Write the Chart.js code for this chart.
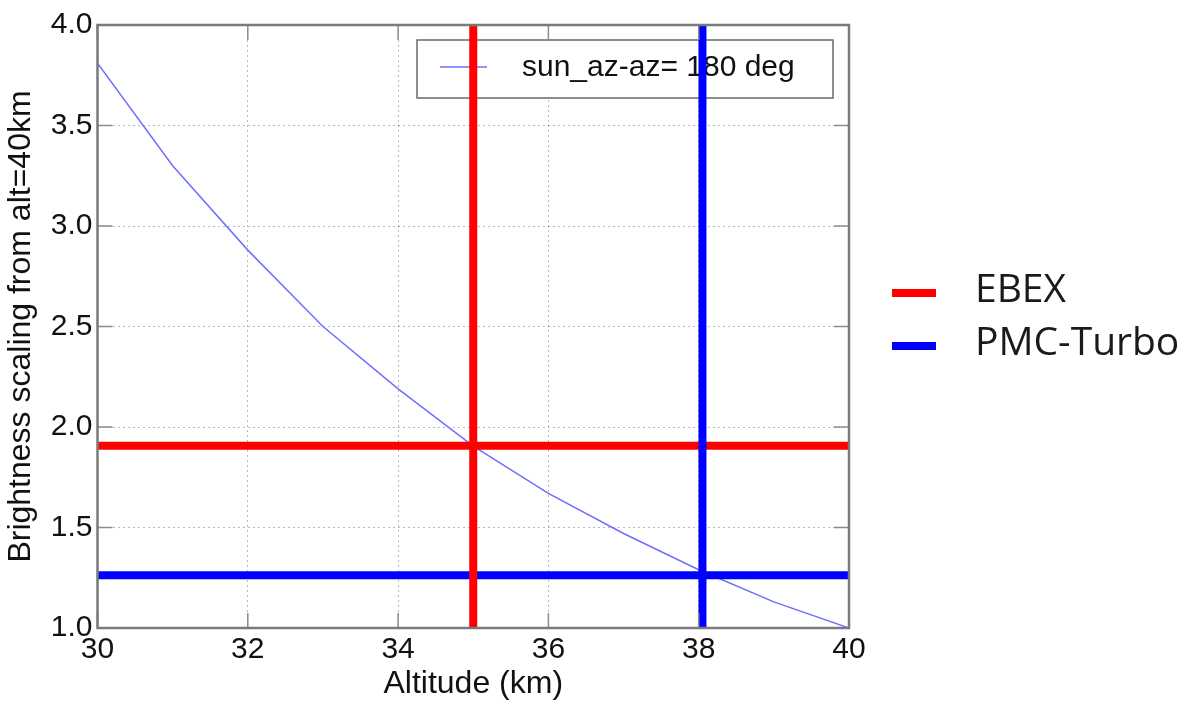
<!DOCTYPE html>
<html>
<head>
<meta charset="utf-8">
<script src="https://cdn.jsdelivr.net/npm/chart.js@4"></script>
<style>
  body { margin: 0; background: #fff; }
  #wrap { position: relative; width: 1196px; height: 705px; }
  #chart { position: absolute; left: 0; top: 0; }
  .key { position: absolute; height: 8px; width: 44px; left: 892px; }
  .keytxt { position: absolute; left: 975px; font-family: "Open Sans", sans-serif; font-size: 39px; line-height: 39px; color: #1a1a1a; white-space: nowrap; }
</style>
</head>
<body>
<div id="wrap">
  <canvas id="chart" width="1196" height="705"></canvas>
  <div class="key" style="top:289px;background:#ff0000"></div>
  <div class="keytxt" style="top:267px">EBEX</div>
  <div class="key" style="top:342px;background:#0000ff"></div>
  <div class="keytxt" style="top:320px">PMC-Turbo</div>
</div>
<script>
// altitude (km) vs brightness scaling
const altitudes = [30, 31, 32, 33, 34, 35, 36, 37, 38, 39, 40];
const brightness = [3.81, 3.30, 2.88, 2.50, 2.19, 1.905, 1.67, 1.47, 1.29, 1.13, 1.00];
const xTicks = [30, 32, 34, 36, 38, 40];
const yTicks = [1.0, 1.5, 2.0, 2.5, 3.0, 3.5, 4.0];
const ebexAlt = 35;
const ebexLevel = 1.907;
const pmcAlt = 38.05;
const pmcLevel = 1.262;
const curveLabel = "sun_az-az= 180 deg";

const curveColor = "#6f6fff";
const fontFam = "Liberation Sans, Arial, sans-serif";
const tickFont = { family: fontFam, size: 30 };
const titleFont = { family: fontFam, size: 32 };

const curvePts = altitudes.map((a, i) => ({ x: a, y: brightness[i] }));

// frame, inward tick marks and the in-plot legend box
const framePlugin = {
    id: "frame",
    beforeDatasetsDraw(chart) {
        const { ctx, chartArea: a } = chart;
        const bx = a.right - 16, by = a.top + 15;
        const w = 416, h = 58;
        ctx.save();
        ctx.fillStyle = "#fff";
        ctx.fillRect(bx - w, by, w, h);
        ctx.strokeStyle = "#6a6a6a";
        ctx.lineWidth = 1.5;
        ctx.strokeRect(bx - w, by, w, h);
        ctx.strokeStyle = curveColor;
        ctx.lineWidth = 1.5;
        ctx.beginPath();
        ctx.moveTo(bx - w + 23, by + 27);
        ctx.lineTo(bx - w + 70, by + 27);
        ctx.stroke();
        ctx.fillStyle = "#111";
        ctx.font = "30px 'Liberation Sans', Arial, sans-serif";
        ctx.textBaseline = "middle";
        ctx.fillText(curveLabel, bx - w + 105, by + 28);
        ctx.restore();
    },
    afterDatasetsDraw(chart) {
        const { ctx, chartArea: a, scales } = chart;
        ctx.save();
        ctx.strokeStyle = "#8c8c8c";
        ctx.lineWidth = 1.5;
        ctx.beginPath();
        for (const t of xTicks) {
            const px = scales.x.getPixelForValue(t);
            ctx.moveTo(px, a.top); ctx.lineTo(px, a.top + 15);
            ctx.moveTo(px, a.bottom); ctx.lineTo(px, a.bottom - 15);
        }
        for (const t of yTicks) {
            const py = scales.y.getPixelForValue(t);
            ctx.moveTo(a.left, py); ctx.lineTo(a.left + 15, py);
            ctx.moveTo(a.right, py); ctx.lineTo(a.right - 15, py);
        }
        ctx.stroke();
        ctx.strokeStyle = "#7a7a7a";
        ctx.lineWidth = 2.5;
        ctx.strokeRect(a.left, a.top, a.right - a.left, a.bottom - a.top);
        ctx.restore();
    }
};

new Chart(document.getElementById("chart"), {
    type: "line",
    data: {
        datasets: [
            {
                label: curveLabel,
                data: curvePts,
                borderColor: curveColor,
                borderWidth: 1.5,
                pointRadius: 0,
                tension: 0,
                order: 5
            },
            {
                label: "EBEX",
                data: [{ x: 30, y: ebexLevel }, { x: 40, y: ebexLevel }],
                borderColor: "#ff0000",
                borderWidth: 8,
                pointRadius: 0,
                order: 4
            },
            {
                label: "PMC-Turbo",
                data: [{ x: 30, y: pmcLevel }, { x: 40, y: pmcLevel }],
                borderColor: "#0000ff",
                borderWidth: 8,
                pointRadius: 0,
                order: 3
            },
            {
                label: "EBEX",
                data: [{ x: ebexAlt, y: 1 }, { x: ebexAlt, y: 4 }],
                borderColor: "#ff0000",
                borderWidth: 8,
                pointRadius: 0,
                order: 2
            },
            {
                label: "PMC-Turbo",
                data: [{ x: pmcAlt, y: 1 }, { x: pmcAlt, y: 4 }],
                borderColor: "#0000ff",
                borderWidth: 8,
                pointRadius: 0,
                order: 1
            }
        ]
    },
    options: {
        responsive: false,
        animation: false,
        layout: { padding: { left: 0, top: 25, right: 347, bottom: 0 } },
        plugins: {
            legend: { display: false },
            tooltip: { enabled: false }
        },
        scales: {
            x: {
                type: "linear",
                min: 30,
                max: 40,
                afterFit(s) { s.height = 77; },
                afterBuildTicks(s) { s.ticks = xTicks.map(v => ({ value: v })); },
                ticks: { color: "#111", font: tickFont, padding: 4, maxRotation: 0 },
                grid: { color: "rgba(0,0,0,0.28)", lineWidth: 1, drawTicks: false },
                border: { display: false, dash: [2, 3] },
                title: {
                    display: true,
                    text: "Altitude (km)",
                    color: "#111",
                    font: titleFont,
                    padding: { top: 0, bottom: 2 }
                }
            },
            y: {
                min: 1,
                max: 4,
                afterFit(s) { s.width = 97.5; },
                afterBuildTicks(s) { s.ticks = yTicks.map(v => ({ value: v })); },
                ticks: { color: "#111", font: tickFont, padding: 5, callback: v => v.toFixed(1) },
                grid: { color: "rgba(0,0,0,0.28)", lineWidth: 1, drawTicks: false },
                border: { display: false, dash: [2, 3] },
                title: {
                    display: true,
                    text: "Brightness scaling from alt=40km",
                    color: "#111",
                    font: titleFont,
                    padding: { top: 2, bottom: 0 }
                }
            }
        }
    },
    plugins: [framePlugin]
});
</script>
</body>
</html>
